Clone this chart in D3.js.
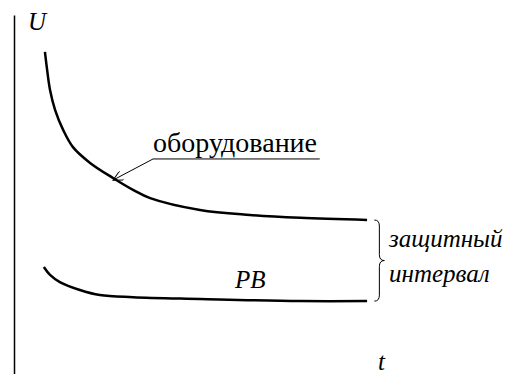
<!DOCTYPE html>
<html>
<head>
<meta charset="UTF-8">
<script src="https://d3js.org/d3.v7.min.js"></script>
<style>
  svg text { font-family: 'Liberation Serif', 'Times New Roman', serif !important; }
</style>
</head>
<body style="margin:0">
<script>
// кривая "оборудование" (t, U)
const equipT = [8.5, 9.1, 9.9, 11.3, 13.5, 16.2, 20.9, 27.2, 32.7, 37.4, 51.1, 64.8, 78.6, 97.0];
const equipU = [89.7, 84.7, 79.1, 73.5, 68.0, 63.2, 58.8, 54.6, 51.3, 49.0, 45.7, 44.3, 43.5, 42.9];
// кривая "РВ"
const rbT = [8.2, 9.9, 12.6, 18.1, 23.6, 32.7, 51.1, 78.6, 97.0];
const rbU = [29.8, 27.6, 25.6, 23.4, 22.0, 21.4, 20.9, 20.3, 20.3];

const W = 522, H = 374;
const svg = d3.select('body').append('svg')
  .attr('width', W).attr('height', H)
  .attr('font-family', 'Times New Roman');

const x = d3.scaleLinear().domain([0, 100]).range([14, 378]);
const y = d3.scaleLinear().domain([0, 100]).range([374, 15]);

// ось U
svg.append('g')
  .attr('transform', `translate(${x(0)},0)`)
  .call(d3.axisLeft(y).ticks(0).tickSizeOuter(0))
  .call(g => g.select('.domain').attr('stroke', '#000').attr('stroke-width', 1.5));

const line = d3.line()
  .x(d => x(d[0]))
  .y(d => y(d[1]))
  .curve(d3.curveCatmullRom.alpha(0.5));

svg.append('path')
  .datum(d3.zip(equipT, equipU))
  .attr('d', line)
  .attr('fill', 'none').attr('stroke', '#000').attr('stroke-width', 2.5);

svg.append('path')
  .datum(d3.zip(rbT, rbU))
  .attr('d', line)
  .attr('fill', 'none').attr('stroke', '#000').attr('stroke-width', 2.5);

function label(px, py, txt, size, italic) {
  const t = svg.append('text').attr('x', px).attr('y', py)
    .attr('font-family', 'Times New Roman')
    .attr('font-size', size)
    .text(txt);
  if (italic) t.attr('font-style', 'italic');
  return t;
}

// подписи осей
label(28, 30, 'U', 25, true);
label(x(100), 370, 't', 25, true);

// выноска "оборудование"
svg.append('defs').append('marker')
  .attr('id', 'arr').attr('viewBox', '0 0 10 10')
  .attr('refX', 10).attr('refY', 5)
  .attr('markerWidth', 14).attr('markerHeight', 10)
  .attr('markerUnits', 'userSpaceOnUse')
  .attr('orient', 'auto')
  .append('path').attr('d', 'M0,0 L10,5 L0,10')
  .attr('fill', 'none').attr('stroke', '#000').attr('stroke-width', 1);

const tip = [x(27.2), y(54.0)];
svg.append('path')
  .attr('d', `M${x(84)},${y(59.9)} H${x(38.2)} L${tip[0]},${tip[1]}`)
  .attr('fill', 'none').attr('stroke', '#000').attr('stroke-width', 1)
  .attr('marker-end', 'url(#arr)');
label(153, 152, 'оборудование', 28, false);

label(235, 288, 'PB', 25, true);

// фигурная скобка "защитный интервал"
const bx = x(99), bTop = y(equipU[equipU.length - 1]), bBot = y(rbU[rbU.length - 1]);
const mid = (bTop + bBot) / 2, w = 10;
svg.append('path')
  .attr('d', `M${bx},${bTop} Q${bx + w / 2},${bTop} ${bx + w / 2},${bTop + 6}
    L${bx + w / 2},${mid - 6} Q${bx + w / 2},${mid} ${bx + w},${mid}
    Q${bx + w / 2},${mid} ${bx + w / 2},${mid + 6}
    L${bx + w / 2},${bBot - 6} Q${bx + w / 2},${bBot} ${bx},${bBot}`)
  .attr('fill', 'none').attr('stroke', '#000').attr('stroke-width', 1);

label(389, 247, 'защитный', 25, true);
label(389, 282, 'интервал', 25, true);
</script>
</body>
</html>
